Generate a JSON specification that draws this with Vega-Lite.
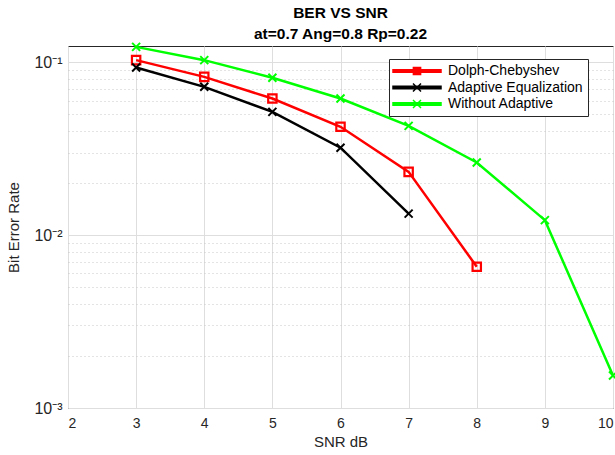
{
  "$schema": "https://vega.github.io/schema/vega-lite/v6.json",
  "width": 545,
  "height": 362,
  "autosize": {"type": "none"},
  "padding": {"left": 68, "top": 46, "right": 2, "bottom": 47},
  "background": "white",
  "config": {
    "view": {"stroke": "#262626", "strokeWidth": 1},
    "font": "Liberation Sans"
  },
  "title": {
    "text": ["BER VS SNR", "at=0.7 Ang=0.8 Rp=0.22"],
    "fontSize": 15.5,
    "fontWeight": "bold",
    "font": "Liberation Sans",
    "color": "#000000",
    "offset": -4,
    "lineHeight": 21,
    "anchor": "middle"
  },
  "data": {
    "values": [
      {"snr": 3, "ber": 0.1027, "series": "Dolph-Chebyshev"},
      {"snr": 4, "ber": 0.0822, "series": "Dolph-Chebyshev"},
      {"snr": 5, "ber": 0.0616, "series": "Dolph-Chebyshev"},
      {"snr": 6, "ber": 0.0423, "series": "Dolph-Chebyshev"},
      {"snr": 7, "ber": 0.0232, "series": "Dolph-Chebyshev"},
      {"snr": 8, "ber": 0.00656, "series": "Dolph-Chebyshev"},
      {"snr": 3, "ber": 0.0932, "series": "Adaptive Equalization"},
      {"snr": 4, "ber": 0.072, "series": "Adaptive Equalization"},
      {"snr": 5, "ber": 0.0516, "series": "Adaptive Equalization"},
      {"snr": 6, "ber": 0.032, "series": "Adaptive Equalization"},
      {"snr": 7, "ber": 0.0133, "series": "Adaptive Equalization"},
      {"snr": 3, "ber": 0.1226, "series": "Without Adaptive"},
      {"snr": 4, "ber": 0.1027, "series": "Without Adaptive"},
      {"snr": 5, "ber": 0.0812, "series": "Without Adaptive"},
      {"snr": 6, "ber": 0.0616, "series": "Without Adaptive"},
      {"snr": 7, "ber": 0.0428, "series": "Without Adaptive"},
      {"snr": 8, "ber": 0.0263, "series": "Without Adaptive"},
      {"snr": 9, "ber": 0.0122, "series": "Without Adaptive"},
      {"snr": 10, "ber": 0.00154, "series": "Without Adaptive"}
    ]
  },
  "encoding": {
    "x": {
      "field": "snr",
      "type": "quantitative",
      "scale": {"domain": [2, 10], "nice": false, "zero": false},
      "axis": {
        "title": "SNR dB",
        "values": [2, 3, 4, 5, 6, 7, 8, 9, 10],
        "format": "d",
        "grid": true,
        "gridColor": "#dedede",
        "gridWidth": 1,
        "domain": false,
        "ticks": false,
        "labelFontSize": 14,
        "labelColor": "#262626",
        "labelPadding": 8,
        "titleFontSize": 15,
        "titleFontWeight": "normal",
        "titleColor": "#262626",
        "titlePadding": 4
      }
    },
    "y": {
      "field": "ber",
      "type": "quantitative",
      "scale": {"type": "log", "domain": [0.001, 0.124], "nice": false},
      "axis": {
        "title": "Bit Error Rate",
        "values": [0.001, 0.002, 0.003, 0.004, 0.005, 0.006, 0.007, 0.008, 0.009, 0.01, 0.02, 0.03, 0.04, 0.05, 0.06, 0.07, 0.08, 0.09, 0.1],
        "labelExpr": "datum.value === 0.1 ? '10⁻¹' : datum.value === 0.01 ? '10⁻²' : datum.value === 0.001 ? '10⁻³' : ''",
        "grid": true,
        "gridColor": {"condition": {"test": "datum.value === 0.1 || datum.value === 0.01 || datum.value === 0.001", "value": "#dedede"}, "value": "#c8c8c8"},
        "gridDash": {"condition": {"test": "datum.value === 0.1 || datum.value === 0.01 || datum.value === 0.001", "value": []}, "value": [1, 3]},
        "domain": false,
        "ticks": false,
        "labelFontSize": 16,
        "labelColor": "#262626",
        "labelPadding": 6,
        "titleFontSize": 15,
        "titleFontWeight": "normal",
        "titleColor": "#262626",
        "titlePadding": 12
      }
    }
  },
  "layer": [
    {
      "mark": {"type": "line", "strokeWidth": 2.5},
      "encoding": {
        "color": {
          "field": "series",
          "type": "nominal",
          "scale": {
            "domain": ["Dolph-Chebyshev", "Adaptive Equalization", "Without Adaptive"],
            "range": ["#ff0000", "#000000", "#00ff00"]
          },
          "legend": {
            "title": null,
            "orient": "none",
            "legendX": 321,
            "legendY": 13,
            "strokeColor": "#262626",
            "fillColor": "white",
            "padding": 5,
            "labelFont": "Liberation Sans",
            "labelFontSize": 14,
            "labelColor": "#000000",
            "symbolSize": 64,
            "symbolStrokeWidth": 2.5,
            "symbolOffset": 16,
            "labelOffset": 24,
            "rowPadding": 2.5,
            "encode": {
              "symbols": {
                "update": {
                  "shape": {"signal": "datum.value === 'Dolph-Chebyshev' ? 'M-6,-0.3L6,-0.3L6,0.3L-6,0.3ZM-0.9,-0.9L0.9,-0.9L0.9,0.9L-0.9,0.9Z' : 'M-6,-0.3L6,-0.3L6,0.3L-6,0.3ZM-1,-1L1,1M-1,1L1,-1'"},
                  "fill": {"signal": "datum.value === 'Dolph-Chebyshev' ? '#ff0000' : datum.value === 'Adaptive Equalization' ? '#000000' : '#00ff00'"},
                  "fillOpacity": {"value": 1},
                  "strokeWidth": {"value": 1.5}
                }
              }
            }
          }
        }
      }
    },
    {
      "transform": [{"filter": "datum.series === 'Dolph-Chebyshev'"}],
      "mark": {"type": "point", "shape": "square", "filled": false, "strokeWidth": 2.2, "size": 70, "opacity": 1, "color": "#ff0000"}
    },
    {
      "transform": [{"filter": "datum.series !== 'Dolph-Chebyshev'"}],
      "mark": {"type": "point", "shape": "M-1,-1L1,1M-1,1L1,-1", "filled": false, "strokeWidth": 2, "size": 64, "opacity": 1},
      "encoding": {
        "stroke": {
          "field": "series",
          "type": "nominal",
          "scale": {
            "domain": ["Dolph-Chebyshev", "Adaptive Equalization", "Without Adaptive"],
            "range": ["#ff0000", "#000000", "#00ff00"]
          },
          "legend": null
        }
      }
    }
  ]
}
